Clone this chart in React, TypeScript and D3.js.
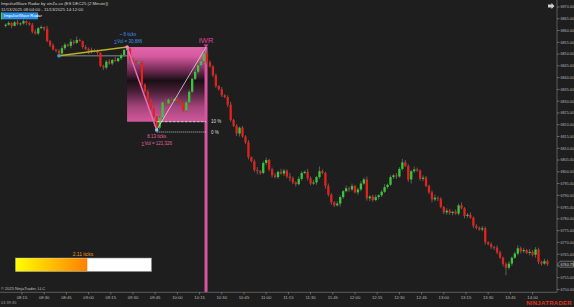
import React from "react";
import * as d3 from "d3";

const W = 574;
const H = 307;

const closes = [
  6862.5, 6863.25, 6862.0, 6863.5, 6862.75, 6863.0, 6864.0, 6863.25, 6862.5, 6859.5,
  6858.75, 6861.0, 6861.5, 6860.75, 6855.5, 6853.75, 6852.0, 6851.5, 6850.25, 6852.5,
  6854.0, 6853.5, 6855.25, 6854.75, 6856.0, 6855.5, 6853.0, 6852.25, 6851.0, 6851.75,
  6851.25, 6850.5, 6845.0, 6844.25, 6846.75, 6846.0, 6847.5, 6847.0, 6848.25, 6849.5,
  6851.75, 6852.25, 6847.5, 6847.0, 6846.25, 6846.5, 6837.0, 6834.0, 6830.5, 6826.75,
  6823.5, 6818.75, 6823.0, 6829.5, 6829.0, 6830.75, 6830.25, 6831.0, 6830.0, 6829.25,
  6826.0, 6829.5, 6834.0, 6839.5, 6842.5, 6845.25, 6847.0, 6850.25, 6846.5, 6844.75,
  6841.0, 6836.5, 6835.0, 6832.5, 6831.75, 6828.5, 6822.0, 6819.5, 6816.25, 6818.75,
  6815.0, 6812.5, 6806.25, 6804.5, 6800.75, 6800.25, 6799.5, 6803.75, 6805.0, 6801.0,
  6798.5, 6797.75, 6800.0, 6799.25, 6800.5, 6798.0, 6797.25, 6795.5, 6794.75, 6797.0,
  6799.5, 6800.0, 6797.25, 6795.0, 6795.5, 6797.75, 6800.25, 6799.5, 6794.0, 6790.25,
  6787.0, 6785.75, 6786.5, 6789.25, 6791.75, 6793.0, 6792.5, 6794.0, 6791.25, 6792.5,
  6795.0, 6796.75, 6788.75, 6789.5, 6788.0, 6789.25, 6790.0, 6791.5, 6793.5, 6794.5,
  6797.75, 6798.5, 6798.0, 6801.25, 6804.0, 6802.5, 6796.75, 6800.25, 6801.0, 6800.5,
  6797.0, 6797.5, 6794.0, 6791.25, 6788.25, 6789.0, 6788.5, 6785.0, 6782.75, 6783.5,
  6782.5, 6783.0, 6782.25, 6785.75, 6784.5, 6781.25, 6781.75, 6780.5, 6777.0, 6776.25,
  6775.5, 6776.0, 6770.0, 6769.25, 6768.0, 6767.75, 6765.75, 6763.5, 6760.75, 6759.25,
  6761.0, 6763.5, 6765.25, 6767.5, 6766.25, 6766.75, 6765.5, 6766.0, 6764.75, 6767.0,
  6761.75, 6761.0, 6762.0, 6760.75,
];
const firstOpen = 6862.0;

// wick extensions in ticks (0.25)
const upperWickTicks = [
  2, 3, 1, 2, 4, 2, 3, 1, 2, 3, 4, 2, 3, 1, 5, 2, 3, 1, 2, 4,
  3, 2, 5, 3, 6, 2, 1, 3, 2, 4, 2, 3, 1, 2, 3, 4, 2, 5, 1, 3,
  2, 3, 2, 4, 1, 2, 3, 2, 4, 3, 2, 1, 3, 2, 6, 3, 4, 2, 5, 3,
  2, 4, 3, 2, 5, 3, 2, 9, 4, 3, 2, 3, 1, 4, 2, 3, 5, 2, 3, 2,
  3, 2, 4, 1, 3, 5, 2, 3, 4, 2, 3, 4, 2, 5, 3, 2, 6, 3, 2, 4,
  3, 2, 5, 3, 4, 2, 8, 3, 2, 4, 3, 2, 4, 3, 2, 5, 3, 4, 2, 3,
  4, 3, 5, 2, 3, 4, 2, 3, 5, 2, 3, 2, 4, 3, 6, 4, 3, 2, 5, 3,
  2, 4, 3, 2, 3, 5, 2, 3, 2, 4, 3, 2, 4, 3, 5, 2, 3, 4, 2, 3,
  2, 4, 3, 2, 3, 2, 4, 3, 2, 3, 4, 2, 3, 5, 3, 4, 2, 5, 3, 4,
  3, 2, 4, 3,
];
const lowerWickTicks = [
  3, 2, 4, 1, 2, 3, 2, 4, 2, 3, 2, 3, 1, 4, 2, 3, 2, 3, 4, 2,
  3, 2, 4, 3, 2, 1, 3, 2, 4, 3, 2, 3, 2, 4, 3, 2, 3, 1, 2, 3,
  3, 2, 3, 2, 4, 2, 3, 2, 1, 3, 2, 4, 3, 2, 3, 4, 2, 3, 2, 4,
  3, 2, 4, 3, 2, 3, 4, 2, 3, 2, 3, 4, 2, 3, 2, 4, 3, 2, 4, 5,
  2, 3, 4, 2, 3, 5, 3, 2, 4, 3, 4, 2, 3, 2, 4, 3, 5, 3, 4, 2,
  3, 2, 4, 3, 2, 4, 3, 2, 5, 3, 4, 3, 2, 5, 3, 2, 4, 3, 2, 4,
  3, 2, 4, 5, 3, 2, 4, 3, 2, 3, 2, 3, 4, 2, 3, 2, 4, 7, 3, 2,
  3, 4, 2, 3, 5, 3, 4, 2, 3, 4, 3, 4, 2, 3, 2, 4, 3, 2, 4, 3,
  2, 3, 4, 2, 3, 4, 3, 2, 4, 13, 3, 4, 2, 3, 4, 3, 2, 4, 3, 5,
  4, 3, 2, 3,
];

const priceTicks = d3.range(6750, 6871, 5);

// pattern anchors (bar indexes)
const swingStart = 18;
const patternHigh = 41;
const patternLow = 51;
const patternEnd = 67;

const tickSize = 0.25;

export default function App() {
  const bars = closes.map((c, i) => {
    const o = i === 0 ? firstOpen : closes[i - 1];
    const hi = Math.max(o, c) + upperWickTicks[i] * tickSize;
    const lo = Math.min(o, c) - lowerWickTicks[i] * tickSize;
    const t = new Date(2025, 10, 13, 8, 4 + 2 * i);
    return { o, c, hi, lo, t };
  });

  const x = d3
    .scaleTime()
    .domain([bars[0].t, bars[bars.length - 1].t])
    .range([5.7, 547.4]);
  const y = d3.scaleLinear().domain([6750, 6870]).range([289.5, 7]);

  const timeTicks = x.ticks(d3.timeMinute.every(15));
  const fmt = d3.timeFormat("%H:%M");

  const axisX = 557;
  const axisY = 292.3;

  const topP = bars[patternHigh].hi;
  const lowP = bars[patternLow].lo;
  const lvl10 = lowP + (topP - lowP) * 0.1;
  const xA = x(bars[patternHigh].t);
  const xB = x(bars[patternLow].t);
  const xC = x(bars[patternEnd].t) + 2;
  const xS = x(bars[swingStart].t);

  const last = bars[bars.length - 1].c;
  const font = "'Liberation Sans', Arial, sans-serif";

  return (
    <svg
      width={W}
      height={H}
      style={{ position: "fixed", left: 0, top: 0, background: "#1e1e1e" }}
      fontFamily={font}
    >
      <defs>
        <linearGradient id="boxGrad" x1="0" y1="0" x2="0" y2="1">
          <stop offset="0" stopColor="rgb(226,100,170)" />
          <stop offset="0.12" stopColor="rgb(215,90,160)" />
          <stop offset="0.3" stopColor="rgb(120,45,90)" />
          <stop offset="0.45" stopColor="rgb(25,15,20)" />
          <stop offset="0.6" stopColor="rgb(75,32,58)" />
          <stop offset="0.8" stopColor="rgb(165,68,124)" />
          <stop offset="1" stopColor="rgb(210,88,155)" />
        </linearGradient>
        <linearGradient id="gauge" x1="0" y1="0" x2="1" y2="0">
          <stop offset="0" stopColor="#ffff00" />
          <stop offset="1" stopColor="#ff8000" />
        </linearGradient>
      </defs>

      <rect x={0} y={0} width={W} height={H} fill="#1e1e1e" />

      {/* pattern box */}
      <rect
        x={xA}
        y={y(topP)}
        width={xC - xA}
        height={y(lvl10) - y(topP)}
        fill="url(#boxGrad)"
      />

      {/* vertical IWR line */}
      <line x1={xC} x2={xC} y1={y(topP)} y2={axisY} stroke="#d9559f" strokeWidth={3} />

      {/* swing gray line */}
      <line x1={xS} x2={xA} y1={y(bars[swingStart].lo)} y2={y(bars[swingStart].lo)} stroke="#8a8a8a" strokeWidth={1} />

      {/* candles */}
      {bars.map((b, i) => {
        const cx = x(b.t);
        const up = b.c >= b.o;
        const top = y(Math.max(b.o, b.c));
        const bot = y(Math.min(b.o, b.c));
        return (
          <g key={i}>
            <line x1={cx} x2={cx} y1={y(b.hi)} y2={y(b.lo)} stroke="#5e5e5e" strokeWidth={1} />
            <rect
              x={cx - 1.15}
              y={top}
              width={2.3}
              height={Math.max(bot - top, 0.8)}
              fill={up ? "#37c837" : "#e3221e"}
            />
          </g>
        );
      })}

      <line x1={xS} x2={xA} y1={y(bars[swingStart].lo)} y2={y(topP)} stroke="#b8b224" strokeWidth={1.5} />

      {/* pattern legs */}
      <line x1={xA} y1={y(topP)} x2={xB} y2={y(lowP)} stroke="#ea6ab2" strokeWidth={1.5} />
      <line x1={xB} y1={y(lowP)} x2={xC} y2={y(topP)} stroke="#d8d8d8" strokeWidth={0.8} />

      {/* levels */}
      <line x1={xB} x2={xC} y1={y(lvl10)} y2={y(lvl10)} stroke="#e8e8e8" strokeWidth={0.8} strokeDasharray="3,1" />
      <line x1={xB} x2={xC} y1={y(lowP) + 2} y2={y(lowP) + 2} stroke="#e8e8e8" strokeWidth={0.8} strokeDasharray="1,1" />
      <text x={xC + 5} y={y(lvl10) + 1.5} fontSize={4.5} fill="#dddddd">10 %</text>
      <text x={xC + 5} y={y(lowP) + 3.5} fontSize={4.5} fill="#dddddd">0 %</text>

      {/* points */}
      <circle cx={xS} cy={y(bars[swingStart].lo)} r={1.8} fill="#3a9ad9" />
      <circle cx={xA} cy={y(topP)} r={1.8} fill="#f08cc4" />
      <circle cx={xB} cy={y(lowP)} r={1.8} fill="#7ec8f0" />

      {/* labels */}
      <text x={xA + 1} y={36} fontSize={4.5} fill="#3d8fe0" textAnchor="middle">~ 8 ticks</text>
      <text x={xA + 1} y={43} fontSize={4.5} fill="#3d8fe0" textAnchor="middle">∑Vol = 30,886</text>
      <text x={xB} y={138} fontSize={4.5} fill="#e0609f" textAnchor="middle">8.13 ticks</text>
      <text x={xB} y={145} fontSize={4.5} fill="#e0609f" textAnchor="middle">∑Vol = 121,326</text>

      <text x={xC} y={42.5} fontSize={7.5} fill="#e0409a" textAnchor="middle">IWR</text>
      <path d={`M${xC - 2.5},${y(topP) - 2.5} L${xC + 2.5},${y(topP) - 2.5} L${xC},${y(topP) + 0.5} Z`} fill="#e0409a" />

      {/* Y axis */}
      <line x1={axisX} x2={axisX} y1={0} y2={axisY} stroke="#5a5a5a" strokeWidth={1} />
      {priceTicks.map((p) => (
        <g key={p}>
          <line x1={axisX} x2={axisX + 2.5} y1={y(p)} y2={y(p)} stroke="#8a8a8a" strokeWidth={0.7} />
          {Math.abs(y(p) - y(last)) > 5 && (
            <text x={axisX + 3.5} y={y(p) + 1.4} fontSize={3.7} fill="#b5b5b5">
              {p.toFixed(2)}
            </text>
          )}
        </g>
      ))}
      {/* last price marker */}
      <path
        d={`M${axisX + 0.5},${y(last)} L${axisX + 3},${y(last) - 3} L${W - 0.5},${y(last) - 3} L${W - 0.5},${y(last) + 3} L${axisX + 3},${y(last) + 3} Z`}
        fill="#2a2a2a"
        stroke="#9a9a9a"
        strokeWidth={0.6}
      />
      <text x={axisX + 3.5} y={y(last) + 1.4} fontSize={3.7} fill="#d0d0d0">
        {last.toFixed(2)}
      </text>

      {/* X axis */}
      <line x1={0} x2={axisX} y1={axisY} y2={axisY} stroke="#5a5a5a" strokeWidth={1} />
      {timeTicks.map((t) => (
        <g key={t.getTime()}>
          <line x1={x(t)} x2={x(t)} y1={axisY} y2={axisY + 2} stroke="#8a8a8a" strokeWidth={0.7} />
          <text x={x(t)} y={298.5} fontSize={4.2} fill="#b5b5b5" textAnchor="middle">
            {fmt(t)}
          </text>
        </g>
      ))}

      {/* header */}
      <text x={1} y={5} fontSize={4.3} fill="#d0d0d0">ImpulseWave Radar by vinZu.co (ES DEC25 (2 Minute))</text>
      <text x={1} y={11} fontSize={4.3} fill="#d0d0d0">11/13/2025 08:04:00 - 11/13/2025 14:12:00</text>
      <rect x={1} y={12.5} width={37} height={6.8} fill="#2b8fe8" />
      <rect x={1} y={12.5} width={1.2} height={6.8} fill="#36d836" />
      <text x={4} y={17.4} fontSize={4.2} fill="#ffffff">ImpulseWave Radar</text>

      {/* top right icon */}
      <path d="M548,4.5 L551.5,4.5 L551.5,3 L554.5,6 L551.5,9 L551.5,7.5 L548,7.5 Z" fill="#cfcfcf" />

      {/* gauge */}
      <text x={83} y={255.5} fontSize={5} fill="#e59a1a" textAnchor="middle">2.11 ticks</text>
      <rect x={15.5} y={258} width={136} height={13.5} fill="#ffffff" stroke="#888" strokeWidth={0.6} />
      <rect x={15.8} y={258.3} width={71.5} height={12.9} fill="url(#gauge)" />

      {/* footer */}
      <text x={1} y={290} fontSize={4} fill="#c0c0c0">© 2025 NinjaTrader, LLC</text>
      <text x={1} y={303.5} fontSize={4} fill="#a0a0a0">01:39:35</text>
      <text x={572} y={304.5} fontSize={6} fontWeight="bold" fill="#e0321c" textAnchor="end" letterSpacing={0.3}>NINJATRADER</text>
    </svg>
  );
}
